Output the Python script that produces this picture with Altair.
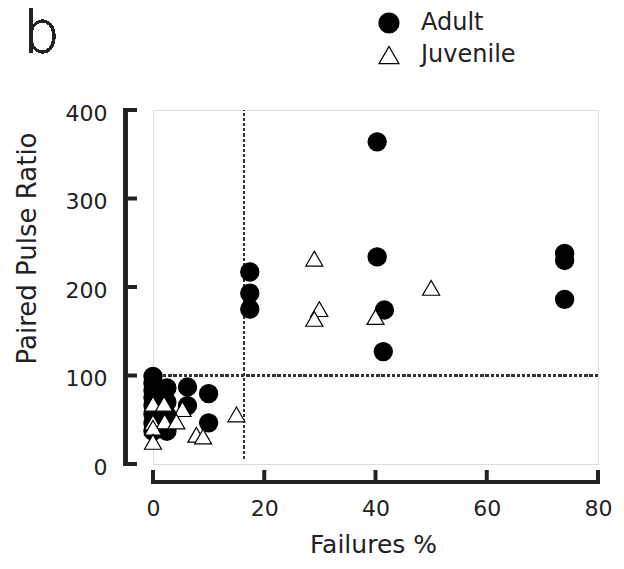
import altair as alt
import pandas as pd

# Adult recordings: failure rate (%) and paired-pulse ratio
adult_fail = [40.3, 40.3, 41.6, 41.4, 17.4, 17.4, 17.4, 74.0, 74.0, 74.0,
              0.0, 0.0, 0.0, 0.0, 0.0, 0.0, 0.0, 0.0,
              2.5, 2.5, 2.5, 2.5, 6.2, 6.2, 10.0, 10.0]
adult_ppr = [364, 234, 174, 127, 217, 193, 175, 238, 230, 186,
             99, 91, 83, 75, 66, 56, 46, 37,
             86, 70, 55, 37, 87, 66, 79.5, 46.5]

# Juvenile recordings
juv_fail = [29.0, 29.9, 29.0, 40.0, 50.0, 15.0,
            0.0, 2.0, 5.3, 0.0, 2.1, 4.2, 0.0, 0.0, 7.8, 9.0]
juv_ppr = [232, 175, 164, 166, 199, 56,
           68, 68, 62, 47, 48, 48, 41, 25, 33, 31]

groups = ["Adult", "Juvenile"]
x_ticks = [0, 20, 40, 60, 80]
y_ticks = [0, 100, 200, 300, 400]
fail_cut = 16.3   # vertical dotted threshold
ppr_cut = 100     # horizontal dotted threshold

points = pd.DataFrame({
    "fail": adult_fail + juv_fail,
    "ppr": adult_ppr + juv_ppr,
    "group": [groups[0]] * len(adult_fail) + [groups[1]] * len(juv_fail),
})
xt = pd.DataFrame({"x": x_ticks})
yt = pd.DataFrame({"y": y_ticks})

FONT = "DejaVu Sans"
W, H = 445, 354

xscale = alt.Scale(domain=[0, 80], nice=False)
yscale = alt.Scale(domain=[0, 400], nice=False)

xaxis = alt.Axis(values=x_ticks, domain=False, ticks=False, grid=False,
                 labelFont=FONT, labelFontSize=22, labelColor="#222",
                 labelPadding=34, labelFlush=False,
                 title="Failures %", titleFont=FONT, titleFontSize=25,
                 titleFontWeight="normal", titleColor="#222",
                 titleBaseline="alphabetic", titleX=220, titleY=88)
yaxis = alt.Axis(values=y_ticks, domain=False, ticks=False, grid=False,
                 labelFont=FONT, labelFontSize=22, labelColor="#222",
                 labelPadding=46, labelOffset=3, labelFlush=False,
                 title="Paired Pulse Ratio", titleFont=FONT, titleFontSize=26,
                 titleFontWeight="normal", titleColor="#222",
                 titleAngle=270, titleAlign="center", titleBaseline="alphabetic",
                 titleX=-118, titleY=138)

X = lambda f, **k: alt.X(f, scale=xscale, axis=xaxis, **k)
Y = lambda f, **k: alt.Y(f, scale=yscale, axis=yaxis, **k)

# dotted threshold lines
vline = alt.Chart(points).mark_rule(
    color="#333", strokeWidth=1.3, strokeDash=[2.6, 2.6]
).encode(x=alt.datum(fail_cut, scale=xscale, axis=xaxis),
         y=alt.datum(6, scale=yscale, axis=yaxis), y2=alt.datum(400))
hline = alt.Chart(points).mark_rule(
    color="#333", strokeWidth=1.3, strokeDash=[2.6, 2.6]
).encode(y=alt.datum(ppr_cut, scale=yscale, axis=yaxis),
         x=alt.datum(0, scale=xscale, axis=xaxis), x2=alt.datum(80))

# detached axis lines with inward ticks
y_domain = alt.Chart(yt).mark_rule(color="#222", strokeWidth=4, strokeCap="square").encode(
    x=alt.value(-27.5), y=alt.datum(0, scale=yscale, axis=yaxis), y2=alt.datum(400))
y_tickmarks = alt.Chart(yt).mark_rule(color="#222", strokeWidth=4).encode(
    y=Y("y:Q"), x=alt.value(-27.5), x2=alt.value(-16))
x_domain = alt.Chart(xt).mark_rule(color="#222", strokeWidth=4, strokeCap="square").encode(
    y=alt.value(H + 18), x=alt.datum(0, scale=xscale, axis=xaxis), x2=alt.datum(80))
x_tickmarks = alt.Chart(xt).mark_rule(color="#222", strokeWidth=4).encode(
    x=X("x:Q"), y=alt.value(H + 18), y2=alt.value(H + 6))

legend = alt.Legend(orient="none", legendX=224, legendY=-99, title=None,
                    padding=0, labelFont=FONT, labelFontSize=24,
                    labelColor="#222", labelOffset=20, rowPadding=7,
                    symbolSize=400, symbolStrokeWidth=1.2)

scatter = alt.Chart(points).mark_point(
    filled=False, strokeWidth=1.2, opacity=1
).encode(
    x=X("fail:Q"),
    y=Y("ppr:Q"),
    shape=alt.Shape("group:N", scale=alt.Scale(domain=groups, range=["circle", "triangle-up"]),
                    legend=legend),
    fill=alt.Fill("group:N", scale=alt.Scale(domain=groups, range=["black", "white"]),
                  legend=legend),
    stroke=alt.Stroke("group:N", scale=alt.Scale(domain=groups, range=["black", "black"]),
                      legend=legend),
    size=alt.condition(alt.datum.group == "Adult", alt.value(330), alt.value(290)),
)

panel = alt.Chart(points).mark_text(
    text="b", font=FONT, fontSize=58, fontWeight=200, align="left",
    baseline="alphabetic", color="#222"
).encode(x=alt.value(-130), y=alt.value(-57))

chart = alt.layer(
    hline, vline, y_domain, y_tickmarks, x_domain, x_tickmarks, scatter, panel
).properties(
    width=W, height=H,
    autosize=alt.AutoSizeParams(type="none"),
    padding={"left": 153, "top": 110, "right": 26, "bottom": 105},
).configure_view(stroke=None).configure(background="white")

chart.save("out.html", embed_options={"renderer": "svg", "actions": False})
